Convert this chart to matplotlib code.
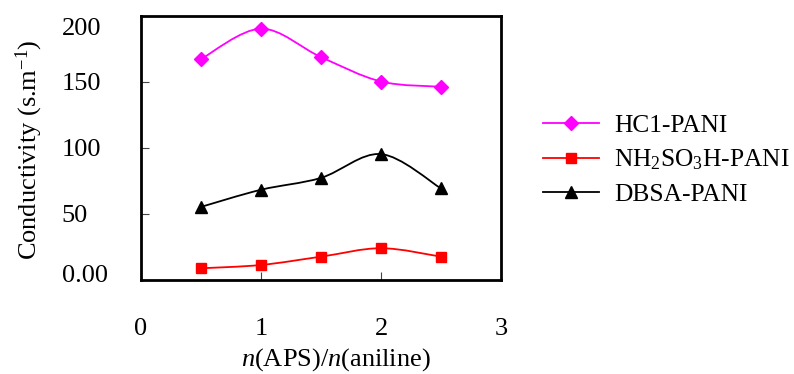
import numpy as np
import matplotlib
matplotlib.use("Agg")
import matplotlib.pyplot as plt
from matplotlib.path import Path
from matplotlib.patches import PathPatch
from matplotlib.lines import Line2D
import matplotlib.transforms as mtransforms

plt.rcParams['font.family'] = ['Liberation Serif', 'DejaVu Serif']
plt.rcParams['mathtext.fontset'] = 'custom'
plt.rcParams['mathtext.rm'] = 'Liberation Serif'
plt.rcParams['mathtext.it'] = 'Liberation Serif:italic'

# ---- data ----
ratio = [0.5, 1.0, 1.5, 2.0, 2.5]
hcl_pani = [167, 190, 168.5, 150, 146]
nh2so3h_pani = [8.5, 11, 17.3, 23.7, 17.3]
dbsa_pani = [55, 68, 77, 95, 69]

series_names = ['HC1-PANI', 'NH$_2$SO$_3$H-PANI', 'DBSA-PANI']
series_colors = ['#FF00FF', '#FF0000', '#000000']
series_markers = ['D', 's', '^']
series_ms = [7, 7, 8.5]

x_ticks = [0, 1, 2, 3]
x_ticklabels = ['0', '1', '2', '3']
y_ticks = [0, 50, 100, 150, 200]
y_ticklabels = ['0.00', '50', '100', '150', '200']

FS = 19
LFS = 18.3

fig = plt.figure(figsize=(7.94, 3.74), dpi=100)
ax = fig.add_axes([141/794, 1-279.5/374, 360/794, 264/374])
ax.set_xlim(0, 3)
ax.set_ylim(0, 200)


def smooth_path(xs, ys):
    pts = np.column_stack([xs, ys]).astype(float)
    n = len(pts)
    verts = [pts[0]]
    codes = [Path.MOVETO]
    for i in range(n - 1):
        p0 = pts[i - 1] if i > 0 else pts[i]
        p1 = pts[i]
        p2 = pts[i + 1]
        p3 = pts[i + 2] if i + 2 < n else pts[i + 1]
        c1 = p1 + (p2 - p0) / 6.0
        c2 = p2 - (p3 - p1) / 6.0
        verts += [c1, c2, p2]
        codes += [Path.CURVE4] * 3
    return Path(verts, codes)


all_series = [hcl_pani, nh2so3h_pani, dbsa_pani]
handles = []
for vals, name, col, mk, ms in zip(all_series, series_names, series_colors,
                                   series_markers, series_ms):
    patch = PathPatch(smooth_path(ratio, vals), facecolor='none',
                      edgecolor=col, lw=1.3, zorder=2)
    ax.add_patch(patch)
    ax.plot(ratio, vals, linestyle='none', marker=mk, ms=ms, color=col,
            mec=col, zorder=3)
    handles.append(Line2D([0], [0], color=col, lw=1.3, marker=mk, ms=ms,
                          mec=col, label=name))

for sp in ax.spines.values():
    sp.set_linewidth(2.0)
    sp.set_color('black')

ax.set_xticks(x_ticks, x_ticklabels)
ax.set_yticks(y_ticks, y_ticklabels)
ax.tick_params(axis='both', direction='in', length=6, width=0.8,
               color='#444444', labelsize=FS)
ax.tick_params(axis='x', pad=28)
ax.tick_params(axis='y', pad=57)
for lab in ax.get_yticklabels():
    lab.set_horizontalalignment('left')
labs = ax.get_yticklabels()
labs[-1].set_transform(labs[-1].get_transform() +
                       mtransforms.ScaledTranslation(0, -10.8/100, fig.dpi_scale_trans))
labs[0].set_transform(labs[0].get_transform() +
                      mtransforms.ScaledTranslation(0, 6.5/100, fig.dpi_scale_trans))

fig.text(336/794, 1-360/374, '$\\it{n}$(APS)/$\\it{n}$(aniline)',
         fontsize=FS, ha='center', va='center')
fig.text(29/794, 1-150/374, 'Conductivity (s.m$^{-1}$)', fontsize=FS,
         rotation=90, ha='center', va='center')

fig.legend(handles=handles, loc='center left',
           bbox_to_anchor=(543/794, 1-160/374), frameon=False, fontsize=LFS,
           handlelength=2.2, handletextpad=0.6, labelspacing=0.42,
           borderpad=0, borderaxespad=0, numpoints=1)

fig.savefig('out.png', dpi=100)
